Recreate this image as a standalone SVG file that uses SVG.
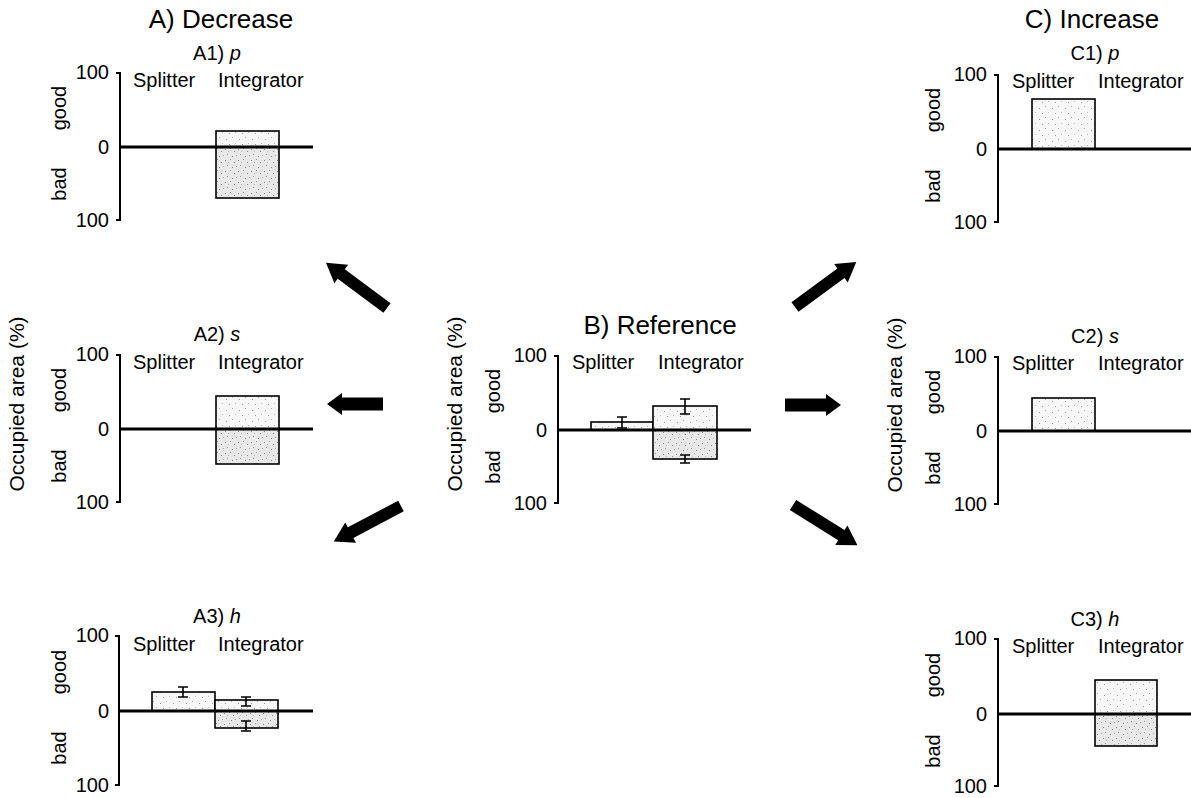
<svg xmlns="http://www.w3.org/2000/svg" width="1191" height="798" viewBox="0 0 1191 798">
<style>
text{font-family:"Liberation Sans",Arial,sans-serif;fill:#000}
.num{font-size:20px;text-anchor:end}
.lbl{font-size:20px}
.sub{font-size:20px;text-anchor:middle}
.rot{font-size:20px;text-anchor:middle}
.occ{font-size:21px;text-anchor:middle}
.title{font-size:26px;text-anchor:middle}
.ax{fill:none;stroke:#000;stroke-width:2}
.zero{stroke:#000;stroke-width:3}
.bar{fill:none;stroke:#000;stroke-width:1.6}
.lt{fill:url(#stipL)}
.dk{fill:url(#stipD)}
.err{fill:none;stroke:#000;stroke-width:1.6}
.arr{fill:#000}
</style>
<defs>
<pattern id="stipL" width="13" height="11" patternUnits="userSpaceOnUse">
<rect width="13" height="11" fill="#f7f7f7"/>
<rect x="2" y="3" width="1" height="1" fill="#999"/>
<rect x="8" y="1" width="1" height="1" fill="#aaa"/>
<rect x="5" y="8" width="1" height="1" fill="#999"/>
<rect x="11" y="7" width="1" height="1" fill="#bbb"/>
</pattern>
<pattern id="stipD" width="13" height="11" patternUnits="userSpaceOnUse">
<rect width="13" height="11" fill="#e8e8e8"/>
<rect x="1" y="2" width="1" height="1" fill="#888"/>
<rect x="6" y="1" width="1" height="1" fill="#999"/>
<rect x="10" y="4" width="1" height="1" fill="#888"/>
<rect x="3" y="7" width="1" height="1" fill="#999"/>
<rect x="8" y="9" width="1" height="1" fill="#888"/>
<rect x="12" y="8" width="1" height="1" fill="#aaa"/>
<rect x="4" y="4" width="1" height="1" fill="#bbb"/>
</pattern>
<path id="arrLong" d="M0,-6 H57 V-11.5 L76,0 L57,11.5 V6 H0 Z"/>
<path id="arrShort" d="M0,-6.5 H41 V-11 L56,0 L41,11 V6.5 H0 Z"/>
</defs>
<rect width="1191" height="798" fill="#fff"/>

<g id="titles">
<text class="title" x="221" y="28">A) Decrease</text>
<text class="title" x="660" y="334">B) Reference</text>
<text class="title" x="1092" y="28">C) Increase</text>
</g>

<g id="panelA1" transform="translate(120,147)">
<text class="sub" x="97" y="-87">A1) <tspan font-style="italic">p</tspan></text>
<rect class="lt" x="96" y="-16" width="63" height="16"/>
<rect class="dk" x="96" y="0" width="63" height="51"/>
<rect class="bar" x="96" y="-16" width="63" height="67"/>
<path class="ax" d="M-4,-74 H0 V73 H-4"/>
<line class="zero" x1="0" y1="0" x2="193" y2="0"/>
<text class="num" x="-11" y="-68">100</text>
<text class="num" x="-11" y="7">0</text>
<text class="num" x="-11" y="80">100</text>
<text class="lbl" x="13" y="-60">Splitter</text>
<text class="lbl" x="98" y="-60">Integrator</text>
<text class="rot" transform="translate(-54,-39) rotate(-90)">good</text>
<text class="rot" transform="translate(-54,37) rotate(-90)">bad</text>
</g>

<g id="panelA2" transform="translate(120,429)">
<text class="sub" x="97" y="-88">A2) <tspan font-style="italic">s</tspan></text>
<rect class="lt" x="96" y="-33" width="63" height="33"/>
<rect class="dk" x="96" y="0" width="63" height="35"/>
<rect class="bar" x="96" y="-33" width="63" height="68"/>
<path class="ax" d="M-4,-74 H0 V73 H-4"/>
<line class="zero" x1="0" y1="0" x2="193" y2="0"/>
<text class="num" x="-11" y="-68">100</text>
<text class="num" x="-11" y="7">0</text>
<text class="num" x="-11" y="80">100</text>
<text class="lbl" x="13" y="-60">Splitter</text>
<text class="lbl" x="98" y="-60">Integrator</text>
<text class="rot" transform="translate(-54,-39) rotate(-90)">good</text>
<text class="rot" transform="translate(-54,37) rotate(-90)">bad</text>
<text class="occ" transform="translate(-96,-25) rotate(-90)">Occupied area (%)</text>
</g>

<g id="panelA3" transform="translate(119,711)">
<text class="sub" x="98" y="-88">A3) <tspan font-style="italic">h</tspan></text>
<rect class="lt" x="33" y="-19" width="63" height="19"/>
<rect class="bar" x="33" y="-19" width="63" height="19"/>
<rect class="lt" x="96" y="-11" width="63" height="11"/>
<rect class="dk" x="96" y="0" width="63" height="17"/>
<rect class="bar" x="96" y="-11" width="63" height="28"/>
<path class="err" d="M59,-24 H69 M64,-24 V-14 M59,-14 H69"/>
<path class="err" d="M122,-14 H132 M127,-14 V-5 M122,-5 H132"/>
<path class="err" d="M122,10 H132 M127,10 V20 M122,20 H132"/>
<path class="ax" d="M-4,-75 H0 V74 H-4"/>
<line class="zero" x1="0" y1="0" x2="194" y2="0"/>
<text class="num" x="-10" y="-69">100</text>
<text class="num" x="-10" y="7">0</text>
<text class="num" x="-10" y="81">100</text>
<text class="lbl" x="14" y="-60">Splitter</text>
<text class="lbl" x="99" y="-60">Integrator</text>
<text class="rot" transform="translate(-53,-39) rotate(-90)">good</text>
<text class="rot" transform="translate(-53,37) rotate(-90)">bad</text>
</g>

<g id="panelB" transform="translate(558,430)">
<rect class="lt" x="33" y="-8" width="62" height="8"/>
<rect class="bar" x="33" y="-8" width="62" height="8"/>
<rect class="lt" x="95" y="-24" width="64" height="24"/>
<rect class="dk" x="95" y="0" width="64" height="29"/>
<rect class="bar" x="95" y="-24" width="64" height="53"/>
<path class="err" d="M59,-13 H69 M64,-13 V-2 M59,-2 H69"/>
<path class="err" d="M122,-31 H132 M127,-31 V-16 M122,-16 H132"/>
<path class="err" d="M122,25 H132 M127,25 V33 M122,33 H132"/>
<path class="ax" d="M-4,-74 H0 V73 H-4"/>
<line class="zero" x1="0" y1="0" x2="193" y2="0"/>
<text class="num" x="-11" y="-68">100</text>
<text class="num" x="-11" y="7">0</text>
<text class="num" x="-11" y="80">100</text>
<text class="lbl" x="14" y="-61">Splitter</text>
<text class="lbl" x="100" y="-61">Integrator</text>
<text class="rot" transform="translate(-58,-39) rotate(-90)">good</text>
<text class="rot" transform="translate(-58,37) rotate(-90)">bad</text>
<text class="occ" transform="translate(-96,-26) rotate(-90)">Occupied area (%)</text>
</g>

<g id="panelC1" transform="translate(998,149)">
<text class="sub" x="97" y="-89">C1) <tspan font-style="italic">p</tspan></text>
<rect class="lt" x="34" y="-50" width="63" height="50"/>
<rect class="bar" x="34" y="-50" width="63" height="50"/>
<path class="ax" d="M-4,-74 H0 V73 H-4"/>
<line class="zero" x1="0" y1="0" x2="193" y2="0"/>
<text class="num" x="-11" y="-68">100</text>
<text class="num" x="-11" y="7">0</text>
<text class="num" x="-11" y="80">100</text>
<text class="lbl" x="14" y="-61">Splitter</text>
<text class="lbl" x="100" y="-61">Integrator</text>
<text class="rot" transform="translate(-58,-39) rotate(-90)">good</text>
<text class="rot" transform="translate(-58,37) rotate(-90)">bad</text>
</g>

<g id="panelC2" transform="translate(998,431)">
<text class="sub" x="97" y="-88">C2) <tspan font-style="italic">s</tspan></text>
<rect class="lt" x="34" y="-33" width="63" height="33"/>
<rect class="bar" x="34" y="-33" width="63" height="33"/>
<path class="ax" d="M-4,-74 H0 V73 H-4"/>
<line class="zero" x1="0" y1="0" x2="193" y2="0"/>
<text class="num" x="-11" y="-68">100</text>
<text class="num" x="-11" y="7">0</text>
<text class="num" x="-11" y="80">100</text>
<text class="lbl" x="14" y="-61">Splitter</text>
<text class="lbl" x="100" y="-61">Integrator</text>
<text class="rot" transform="translate(-58,-39) rotate(-90)">good</text>
<text class="rot" transform="translate(-58,37) rotate(-90)">bad</text>
<text class="occ" transform="translate(-96,-26) rotate(-90)">Occupied area (%)</text>
</g>

<g id="panelC3" transform="translate(998,714)">
<text class="sub" x="97" y="-88">C3) <tspan font-style="italic">h</tspan></text>
<rect class="lt" x="97" y="-34" width="62" height="34"/>
<rect class="dk" x="97" y="0" width="62" height="32"/>
<rect class="bar" x="97" y="-34" width="62" height="66"/>
<path class="ax" d="M-4,-75 H0 V72 H-4"/>
<line class="zero" x1="0" y1="0" x2="193" y2="0"/>
<text class="num" x="-11" y="-69">100</text>
<text class="num" x="-11" y="7">0</text>
<text class="num" x="-11" y="79">100</text>
<text class="lbl" x="14" y="-61">Splitter</text>
<text class="lbl" x="100" y="-61">Integrator</text>
<text class="rot" transform="translate(-58,-39) rotate(-90)">good</text>
<text class="rot" transform="translate(-58,37) rotate(-90)">bad</text>
</g>

<g id="connectors" class="arr">
<use href="#arrLong" transform="translate(387,308) rotate(-143.4)"/>
<use href="#arrShort" transform="translate(383,404) rotate(180)"/>
<use href="#arrLong" transform="translate(401,506) rotate(152.1)"/>
<use href="#arrLong" transform="translate(795,307) rotate(-36.3)"/>
<use href="#arrShort" transform="translate(785,405)"/>
<use href="#arrLong" transform="translate(793,505) rotate(32)"/>
</g>
</svg>
